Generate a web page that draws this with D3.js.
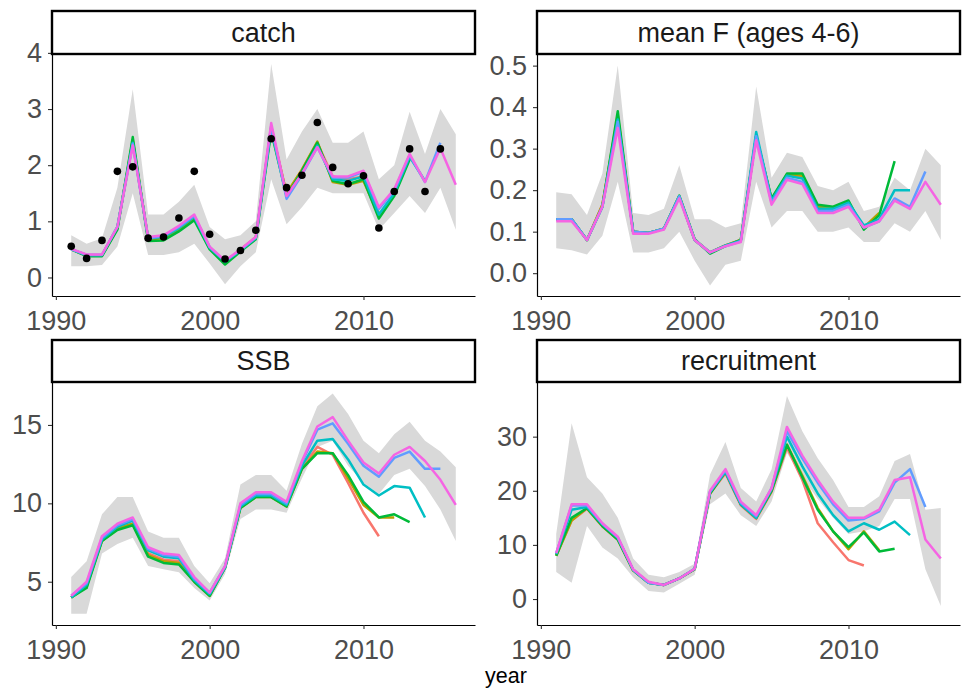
<!DOCTYPE html>
<html>
<head>
<meta charset="utf-8">
<script src="https://cdn.jsdelivr.net/npm/d3@7"></script>
<style>
  body { margin: 0; background: #fff; }
  svg { display: block; font-family: "Liberation Sans", Arial, sans-serif; }
</style>
</head>
<body>
<div id="chart"></div>
<script>
// years of the assessment
const years = d3.range(1991, 2017);
const xTicks = [1990, 2000, 2010];

// retro peels, oldest terminal year first (ggplot hue order)
const peelNames = ["2011", "2012", "2013", "2014", "2015", "2016"];
const peelColors = ["#F8766D", "#B79F00", "#00BA38", "#00BFC4", "#619CFF", "#F564E3"];

// catch
const catchObs = [0.555, 0.34, 0.66, 1.89, 1.97, 0.7, 0.72, 1.06, 1.89, 0.77, 0.33, 0.48, 0.84, 2.47, 1.6, 1.82, 2.76, 1.96, 1.67, 1.81, 0.88, 1.53, 2.29, 1.53, 2.29];
const catchLow = [0.2, 0.2, 0.22, 0.55, 1.5, 0.4, 0.4, 0.45, 0.6, 0.25, -0.12, 0.2, 0.45, 1.75, 0.95, 1.25, 1.6, 1.5, 1.5, 1.5, 0.85, 1.15, 1.45, 1.15, 1.6, 0.85];
const catchHigh = [0.75, 0.6, 0.7, 1.6, 3.35, 1.12, 1.12, 1.35, 1.65, 0.9, 0.68, 0.75, 1.0, 3.8, 2.1, 2.6, 3.0, 2.4, 2.4, 2.6, 1.75, 2.0, 2.95, 2.2, 3.0, 2.55];
const catchPeels = [
  [0.5, 0.39, 0.4, 0.88, 2.42, 0.7, 0.72, 0.88, 1.08, 0.53, 0.27, 0.5, 0.72, 2.68, 1.48, 1.92, 2.4, 1.8, 1.75, 1.8, 1.15],
  [0.5, 0.39, 0.39, 0.88, 2.45, 0.68, 0.7, 0.86, 1.05, 0.52, 0.26, 0.48, 0.7, 2.65, 1.5, 1.92, 2.42, 1.7, 1.65, 1.72, 1.1, 1.48],
  [0.5, 0.38, 0.38, 0.85, 2.5, 0.65, 0.66, 0.82, 1.02, 0.5, 0.23, 0.46, 0.68, 2.6, 1.45, 1.9, 2.4, 1.72, 1.66, 1.75, 1.05, 1.45, 2.1],
  [0.5, 0.4, 0.4, 0.9, 2.4, 0.7, 0.72, 0.88, 1.08, 0.53, 0.28, 0.48, 0.7, 2.65, 1.45, 1.85, 2.35, 1.75, 1.72, 1.8, 1.12, 1.5, 2.15, 1.72],
  [0.5, 0.4, 0.4, 0.9, 2.38, 0.7, 0.74, 0.9, 1.1, 0.54, 0.29, 0.49, 0.71, 2.7, 1.4, 1.83, 2.32, 1.78, 1.78, 1.88, 1.22, 1.55, 2.18, 1.7, 2.4],
  [0.51, 0.41, 0.41, 0.9, 2.35, 0.72, 0.75, 0.92, 1.12, 0.55, 0.3, 0.5, 0.72, 2.75, 1.45, 1.85, 2.32, 1.8, 1.8, 1.9, 1.25, 1.57, 2.2, 1.7, 2.3, 1.65]
];

// mean F (ages 4-6)
const fLow = [0.06, 0.055, 0.045, 0.09, 0.22, 0.05, 0.05, 0.06, 0.1, 0.03, -0.03, 0.02, 0.03, 0.22, 0.11, 0.15, 0.15, 0.1, 0.1, 0.11, 0.075, 0.075, 0.12, 0.1, 0.15, 0.08];
const fHigh = [0.195, 0.19, 0.14, 0.24, 0.5, 0.145, 0.14, 0.155, 0.26, 0.13, 0.13, 0.11, 0.12, 0.45, 0.23, 0.29, 0.28, 0.21, 0.2, 0.22, 0.15, 0.16, 0.23, 0.2, 0.3, 0.26];
const fPeels = [
  [0.13, 0.13, 0.08, 0.165, 0.375, 0.1, 0.097, 0.107, 0.185, 0.08, 0.05, 0.067, 0.08, 0.33, 0.175, 0.235, 0.232, 0.158, 0.156, 0.168, 0.112],
  [0.13, 0.13, 0.08, 0.165, 0.38, 0.1, 0.097, 0.107, 0.185, 0.08, 0.05, 0.067, 0.08, 0.33, 0.178, 0.238, 0.235, 0.16, 0.158, 0.17, 0.11, 0.145],
  [0.13, 0.13, 0.08, 0.16, 0.39, 0.1, 0.097, 0.107, 0.187, 0.082, 0.047, 0.065, 0.08, 0.33, 0.18, 0.24, 0.24, 0.165, 0.16, 0.175, 0.105, 0.14, 0.27],
  [0.13, 0.13, 0.08, 0.16, 0.37, 0.1, 0.097, 0.107, 0.185, 0.08, 0.05, 0.067, 0.078, 0.34, 0.175, 0.235, 0.228, 0.155, 0.155, 0.17, 0.115, 0.13, 0.2, 0.2],
  [0.13, 0.13, 0.08, 0.16, 0.365, 0.1, 0.097, 0.107, 0.185, 0.08, 0.05, 0.065, 0.077, 0.33, 0.17, 0.23, 0.22, 0.15, 0.15, 0.165, 0.11, 0.125, 0.18, 0.16, 0.245],
  [0.125, 0.125, 0.08, 0.16, 0.35, 0.095, 0.095, 0.105, 0.18, 0.08, 0.05, 0.065, 0.075, 0.32, 0.165, 0.225, 0.215, 0.145, 0.145, 0.16, 0.11, 0.125, 0.175, 0.155, 0.22, 0.165]
];

// SSB
const ssbLow = [2.95, 2.95, 6.8, 7.4, 7.8, 6.0, 5.8, 5.6, 4.6, 3.8, 5.5, 9.0, 9.6, 9.6, 9.4, 11.6, 13.6, 14.0, 12.4, 11.3, 10.6, 11.8, 12.2, 11.1, 9.6, 7.6];
const ssbHigh = [5.3, 6.3, 9.3, 10.4, 10.4, 8.2, 7.8, 7.8, 6.0, 4.9, 6.5, 11.2, 11.8, 11.8, 10.8, 13.8, 16.2, 17.0, 15.7, 14.0, 13.2, 14.4, 15.2, 14.0, 13.3, 12.3];
const ssbPeels = [
  [4.0, 4.7, 7.7, 8.4, 8.7, 6.8, 6.4, 6.3, 5.1, 4.2, 5.9, 9.8, 10.5, 10.5, 9.9, 12.3, 13.6, 13.1, 11.3, 9.4, 7.9],
  [4.0, 4.7, 7.6, 8.4, 8.7, 6.7, 6.3, 6.2, 5.0, 4.1, 5.9, 9.7, 10.4, 10.4, 9.8, 12.2, 13.3, 13.2, 11.6, 9.9, 9.1, 9.1],
  [4.0, 4.6, 7.6, 8.3, 8.6, 6.6, 6.2, 6.1, 5.0, 4.1, 5.9, 9.7, 10.4, 10.4, 9.8, 12.2, 13.2, 13.2, 11.8, 10.1, 9.1, 9.3, 8.8],
  [4.0, 4.8, 7.7, 8.5, 8.9, 7.0, 6.6, 6.5, 5.1, 4.2, 5.9, 9.8, 10.5, 10.5, 9.9, 12.4, 14.0, 14.1, 12.8, 11.2, 10.5, 11.1, 11.0, 9.1],
  [4.1, 4.9, 7.8, 8.6, 9.0, 7.1, 6.7, 6.6, 5.2, 4.3, 6.0, 9.9, 10.6, 10.6, 10.0, 12.6, 14.7, 15.1, 13.8, 12.4, 11.7, 12.9, 13.3, 12.2, 12.2],
  [4.1, 5.0, 7.9, 8.7, 9.1, 7.2, 6.8, 6.7, 5.3, 4.3, 6.0, 10.0, 10.7, 10.7, 10.1, 12.7, 14.9, 15.5, 14.0, 12.6, 11.9, 13.1, 13.6, 12.7, 11.5, 9.9]
];

// recruitment
const recLow = [5.0, 3.0, 13.5, 9.5, 7.5, 4.0, 1.5, 1.2, 2.8, 4.5, 17.5, 19.5, 15.5, 13.5, 18.0, 27.0, 22.5, 18.5, 15.0, 12.0, 12.5, 13.5, 18.5, 18.5, 5.5, -1.3];
const recHigh = [12.0, 32.5, 22.5, 19.5, 15.0, 7.5, 4.5, 4.0, 5.0, 6.5, 23.0, 29.0, 20.5, 18.0, 24.0, 37.5, 31.0, 26.0, 22.0, 17.0, 17.0, 19.0, 25.5, 26.8, 16.5, 16.8];
const recPeels = [
  [8.0, 14.5, 16.7, 13.4, 11.0, 5.3, 3.0, 2.6, 3.8, 5.5, 19.5, 23.2, 17.3, 14.8, 19.8, 28.0, 22.0, 14.0, 10.5, 7.2, 6.2],
  [8.0, 14.5, 16.8, 13.5, 11.0, 5.3, 3.0, 2.6, 3.8, 5.5, 19.5, 23.5, 17.5, 15.0, 20.0, 28.5, 22.8, 16.8, 12.5, 9.2, 12.5, 9.0],
  [8.0, 15.0, 16.8, 13.5, 11.0, 5.3, 3.0, 2.6, 3.8, 5.5, 19.5, 23.5, 17.5, 15.0, 20.0, 28.5, 22.5, 16.5, 12.5, 9.6, 12.3, 8.8, 9.3],
  [8.3, 16.5, 17.0, 13.8, 11.3, 5.4, 3.0, 2.6, 3.8, 5.6, 19.8, 23.5, 17.5, 15.0, 20.3, 30.0, 24.5, 19.5, 15.5, 12.5, 14.0, 12.8, 14.3, 11.8],
  [8.5, 17.3, 17.3, 13.9, 11.4, 5.4, 3.0, 2.6, 3.8, 5.6, 19.8, 23.8, 17.8, 15.3, 20.5, 31.0, 26.0, 21.5, 17.5, 14.5, 14.8, 16.2, 21.5, 24.0, 17.0],
  [8.5, 17.5, 17.5, 14.0, 11.5, 5.5, 3.2, 2.6, 3.8, 5.6, 20.0, 24.0, 18.0, 15.5, 20.5, 31.8, 26.5, 22.0, 18.0, 15.0, 15.0, 16.5, 22.0, 22.5, 11.0, 7.5]
];

// facet titles, y ranges and ticks
const panelTitles = ["catch", "mean F (ages 4-6)", "SSB", "recruitment"];
const yDomains = [[-0.33, 3.98], [-0.055, 0.528], [2.24, 17.74], [-4.8, 40.1]];
const yTicks = [[0, 1, 2, 3, 4], [0, 0.1, 0.2, 0.3, 0.4, 0.5], [5, 10, 15], [0, 10, 20, 30]];
const yFormats = [d3.format("d"), d3.format(".1f"), d3.format("d"), d3.format("d")];

const panels = [
  { peels: catchPeels, low: catchLow, high: catchHigh, obs: catchObs },
  { peels: fPeels, low: fLow, high: fHigh, obs: null },
  { peels: ssbPeels, low: ssbLow, high: ssbHigh, obs: null },
  { peels: recPeels, low: recLow, high: recHigh, obs: null }
];

// page layout
const width = 962;
const height = 695;
const cols = [[52, 475], [537, 960]];
const rows = [
  { stripTop: 11, top: 54, bottom: 296 },
  { stripTop: 340, top: 382, bottom: 625 }
];
const fontSize = 27;
const lineWidth = 2.5;
const ribbonColor = "#D9D9D9";

const svg = d3
  .select("#chart")
  .append("svg")
  .attr("width", width)
  .attr("height", height)
  .attr("viewBox", [0, 0, width, height]);

panels.forEach(function (p, k) {
  const col = cols[k % 2];
  const row = rows[Math.floor(k / 2)];

  // ggplot default 5% expansion around 1991-2016
  const xScale = d3.scaleLinear([1989.75, 2017.25], col);
  const yScale = d3.scaleLinear(yDomains[k], [row.bottom, row.top]);

  const g = svg.append("g");

  // confidence ribbon of the full run
  const area = d3
    .area()
    .x((d, i) => xScale(years[i]))
    .y0((d, i) => yScale(p.low[i]))
    .y1((d, i) => yScale(p.high[i]));

  g.append("path")
    .datum(p.low)
    .attr("d", area)
    .attr("fill", ribbonColor);

  // retro peels
  const line = d3
    .line()
    .x((d, i) => xScale(years[i]))
    .y((d) => yScale(d));

  g.append("g")
    .selectAll("path")
    .data(p.peels)
    .join("path")
    .attr("d", line)
    .attr("fill", "none")
    .attr("stroke", (d, i) => peelColors[i])
    .attr("stroke-width", lineWidth)
    .attr("stroke-linejoin", "round");

  // observed catch
  if (p.obs) {
    g.append("g")
      .selectAll("circle")
      .data(p.obs)
      .join("circle")
      .attr("cx", (d, i) => xScale(years[i]))
      .attr("cy", (d) => yScale(d))
      .attr("r", 3.8)
      .attr("fill", "#000");
  }

  // y axis
  g.append("g")
    .attr("transform", `translate(${col[0]},0)`)
    .call(
      d3
        .axisLeft(yScale)
        .tickValues(yTicks[k])
        .tickFormat(yFormats[k])
        .tickSize(4)
        .tickSizeOuter(0)
        .tickPadding(6)
    )
    .call((a) => a.select(".domain").attr("stroke", "#000").attr("stroke-width", 1.2))
    .call((a) => a.selectAll(".tick line").attr("stroke", "#333").attr("stroke-width", 1.1))
    .call((a) =>
      a
        .selectAll(".tick text")
        .attr("fill", "#4D4D4D")
        .attr("font-size", fontSize)
        .attr("font-family", "Liberation Sans, Arial, sans-serif")
    );

  // x axis
  g.append("g")
    .attr("transform", `translate(0,${row.bottom})`)
    .call(
      d3
        .axisBottom(xScale)
        .tickValues(xTicks)
        .tickFormat(d3.format("d"))
        .tickSize(4)
        .tickSizeOuter(0)
        .tickPadding(11)
    )
    .call((a) => a.select(".domain").attr("stroke", "#000").attr("stroke-width", 1.2))
    .call((a) => a.selectAll(".tick line").attr("stroke", "#333").attr("stroke-width", 1.1))
    .call((a) =>
      a
        .selectAll(".tick text")
        .attr("fill", "#4D4D4D")
        .attr("font-size", fontSize)
        .attr("font-family", "Liberation Sans, Arial, sans-serif")
    );

  // facet strip
  g.append("rect")
    .attr("x", col[0])
    .attr("y", row.stripTop)
    .attr("width", col[1] - col[0])
    .attr("height", row.top - row.stripTop)
    .attr("fill", "#fff")
    .attr("stroke", "#000")
    .attr("stroke-width", 2.4);

  g.append("text")
    .attr("x", (col[0] + col[1]) / 2)
    .attr("y", (row.stripTop + row.top) / 2)
    .attr("text-anchor", "middle")
    .attr("dominant-baseline", "central")
    .attr("font-size", fontSize)
    .attr("fill", "#1A1A1A")
    .text(panelTitles[k]);
});

// shared x title
svg
  .append("text")
  .attr("x", (cols[0][0] + cols[1][1]) / 2)
  .attr("y", 683)
  .attr("text-anchor", "middle")
  .attr("font-size", 21.5)
  .attr("fill", "#000")
  .text("year");
</script>
</body>
</html>
